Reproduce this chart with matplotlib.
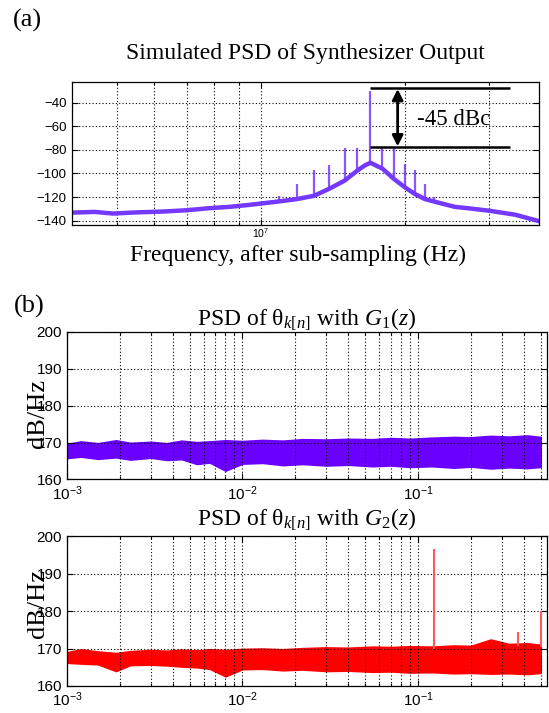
import numpy as np
import matplotlib
matplotlib.use("Agg")
import matplotlib.pyplot as plt
from matplotlib.ticker import NullFormatter

plt.rcParams['font.family'] = ['Liberation Serif', 'DejaVu Serif']
plt.rcParams['mathtext.fontset'] = 'custom'
plt.rcParams['mathtext.rm'] = 'Liberation Serif'
plt.rcParams['mathtext.it'] = 'Liberation Serif:italic'

# ---- (a) synthesizer output PSD ----
floor_f = [4.03e6, 4.5e6, 4.92e6, 5.5e6, 6.25e6, 7.0e6, 7.83e6, 8.62e6, 9.49e6, 1.093e7,
           1.191e7, 1.291e7, 1.39e7, 1.498e7, 1.592e7, 1.65e7, 1.694e7, 1.795e7,
           1.896e7, 2.0e7, 2.099e7, 2.2e7, 2.34e7, 2.54e7, 2.75e7, 3.01e7, 3.4e7, 3.80e7]
floor_db = [-133.2, -132.6, -134.0, -133.0, -132.3, -131.2, -129.4, -128.3, -126.6, -123.7,
            -121.7, -119.0, -113.0, -106.0, -97.5, -93.2, -91.0, -96.0,
            -104.6, -111.8, -117.5, -121.7, -124.6, -128.3, -129.8, -131.7, -135.0, -140.3]

spur_f = [1.093e7, 1.191e7, 1.291e7, 1.39e7, 1.498e7, 1.592e7, 1.694e7,
          1.795e7, 1.896e7, 2.0e7, 2.099e7, 2.2e7, 2.30e7]
spur_base = [-123.7, -121.7, -119.0, -113.0, -106.0, -97.5, -91.0,
             -96.0, -104.6, -111.8, -117.5, -121.7, -123.5]
spur_top = [-118.9, -108.9, -97.5, -92.7, -78.1, -78.1, -30.6,
            -78.0, -78.0, -91.8, -97.5, -108.9, -120.3]

carrier_line = -27.7
spur_line = -78.0
dbc_text = '-45 dBc'

# ---- (b) PSD of theta_k[n], envelopes of the noise band ----
b_f = [1e-3, 1.2e-3, 1.5e-3, 1.9e-3, 2.3e-3, 3e-3, 3.7e-3, 4.5e-3, 5.5e-3, 6.5e-3,
       8e-3, 1e-2, 1.3e-2, 1.7e-2, 2.2e-2, 3e-2, 4e-2, 5.5e-2, 7e-2, 9e-2,
       0.12, 0.16, 0.2, 0.26, 0.33, 0.42, 0.5]
b1_hi = [169.6, 170.3, 169.8, 170.6, 169.9, 170.2, 169.8, 170.5, 170.1, 170.3,
         170.6, 170.4, 170.7, 170.5, 170.9, 170.8, 171.0, 170.9, 171.2, 171.0,
         171.3, 171.5, 171.4, 171.8, 171.6, 171.9, 171.5]
b1_lo = [165.8, 166.2, 165.6, 166.0, 165.4, 165.9, 165.3, 165.5, 164.2, 164.6,
         162.4, 164.3, 164.5, 163.9, 164.2, 163.8, 164.0, 163.6, 163.8, 163.4,
         163.6, 163.2, 163.5, 163.0, 163.3, 163.1, 163.4]
b2_hi = [169.0, 169.8, 169.2, 168.8, 169.3, 169.6, 169.4, 169.7, 169.5, 169.8,
         169.6, 169.9, 170.0, 169.8, 170.1, 170.3, 170.2, 170.5, 170.4, 170.6,
         170.5, 170.8, 170.7, 172.4, 171.2, 171.4, 171.0]
b2_lo = [166.2, 166.0, 165.8, 164.0, 165.6, 165.7, 165.5, 165.2, 165.0, 164.6,
         162.6, 164.5, 164.6, 164.2, 164.4, 164.0, 164.1, 163.8, 163.9, 163.6,
         163.7, 163.4, 163.5, 163.3, 163.4, 163.2, 163.5]
b2_spike_f = [0.124, 0.37, 0.5]
b2_spike_top = [196.6, 174.4, 180.1]
b2_spike_base = [170.0, 170.6, 170.5]

purple_a = '#7438ff'
purple_b = '#6a00ff'
red = '#ff0000'

fig = plt.figure(figsize=(5.49, 7.13), dpi=100)

def style_axes(ax, fs):
    ax.tick_params(which='both', direction='in', top=True, right=True, width=0.8)
    ax.tick_params(which='major', length=4, labelsize=fs)
    ax.tick_params(which='minor', length=2)
    for lab in ax.get_xticklabels() + ax.get_yticklabels():
        lab.set_family(['Liberation Sans', 'DejaVu Sans'])
    ax.xaxis.set_minor_formatter(NullFormatter())
    ax.grid(True, which='both', axis='x', color='k', linestyle=(0, (1, 2)), lw=0.8)
    ax.grid(True, which='major', axis='y', color='k', linestyle=(0, (1, 2)), lw=0.8)
    for sp in ax.spines.values():
        sp.set_linewidth(0.9)

# (a)
ax = fig.add_axes([0.1306, 0.6844, 0.8517, 0.2000])
ax.vlines(spur_f, spur_base, spur_top, color=purple_a, lw=1.6, alpha=0.85)
ax.plot(floor_f, floor_db, color=purple_a, lw=3.2, solid_joinstyle='round')
ax.set_xscale('log')
ax.set_xlim(4.03e6, 3.815e7)
ax.set_ylim(-143.7, -23)
ax.set_yticks([-140, -120, -100, -80, -60, -40])
style_axes(ax, 9.5)
for lab in ax.get_xticklabels():
    lab.set_fontsize(7.5)
ax.tick_params(axis='x', which='major', pad=1)
ax.set_title('Simulated PSD of Synthesizer Output', fontsize=17, pad=17)

x0 = spur_f[6]
ax.hlines([carrier_line, spur_line], x0, 3.32e7, color='k', lw=1.8)
ax.annotate('', xy=(1.931e7, spur_line - 1.5), xytext=(1.931e7, carrier_line + 1.5),
            arrowprops=dict(arrowstyle='<|-|>', color='k', lw=2.0, mutation_scale=16))
ax.text(2.12e7, -54.8, dbc_text, fontsize=16.5, ha='left', va='center')

fig.text(297.6 / 549, 1 - 261 / 713, 'Frequency, after sub-sampling (Hz)',
         fontsize=17, ha='center', va='baseline')
fig.text(12.5 / 549, 1 - 27 / 713, '(a)', fontsize=19, va='baseline')
fig.text(13.5 / 549, 1 - 313 / 713, '(b)', fontsize=19, va='baseline')

# (b) top
ax1 = fig.add_axes([0.1220, 0.3275, 0.8743, 0.2073])
ax1.fill_between(b_f, b1_lo, b1_hi, color=purple_b, lw=1.2, edgecolor=purple_b)
ax1.set_xscale('log')
ax1.set_xlim(1e-3, 0.543)
ax1.set_ylim(160, 200)
ax1.set_yticks([160, 170, 180, 190, 200])
style_axes(ax1, 11)
ax1.set_title('PSD of θ$_{k[n]}$ with $G_1(z)$', fontsize=17, pad=3.5)
ax1.set_ylabel('dB/Hz', fontsize=19)
ax1.yaxis.set_label_coords(-0.037, 0.448)

# (b) bottom
ax2 = fig.add_axes([0.1220, 0.0379, 0.8743, 0.2100])
ax2.vlines(b2_spike_f, b2_spike_base, b2_spike_top, color='#ff5a5a', lw=1.5)
ax2.fill_between(b_f, b2_lo, b2_hi, color=red, lw=1.2, edgecolor=red)
ax2.set_xscale('log')
ax2.set_xlim(1e-3, 0.543)
ax2.set_ylim(160, 200)
ax2.set_yticks([160, 170, 180, 190, 200])
style_axes(ax2, 11)
ax2.set_title('PSD of θ$_{k[n]}$ with $G_2(z)$', fontsize=17, pad=8)
ax2.set_ylabel('dB/Hz', fontsize=19)
ax2.yaxis.set_label_coords(-0.037, 0.554)

fig.savefig('out.png', dpi=100)
